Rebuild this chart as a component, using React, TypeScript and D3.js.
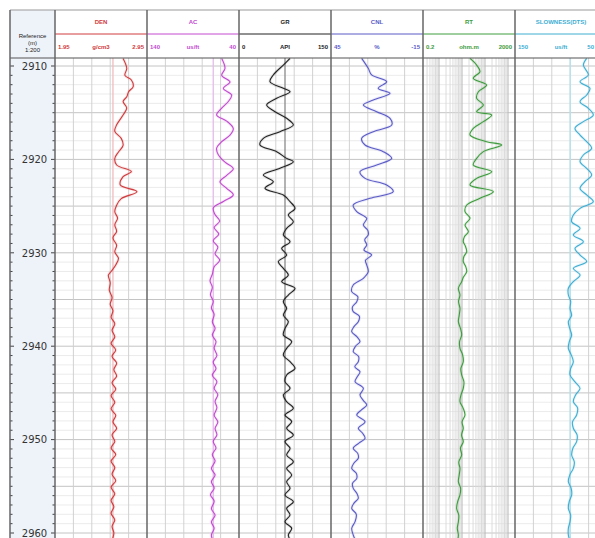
import * as d3 from 'd3';

// track header texts
const TRACK_TITLES = ['DEN', 'AC', 'GR', 'CNL', 'RT', 'SLOWNESS(DTS)'];
const SCALE_LEFT = ['1.95', '140', '0', '45', '0.2', '150'];
const SCALE_UNIT = ['g/cm3', 'us/ft', 'API', '%', 'ohm.m', 'us/ft'];
const SCALE_RIGHT = ['2.95', '40', '150', '-15', '2000', '50'];
const DOMAINS: [number, number][] = [[1.95, 2.95], [140, 40], [0, 150], [45, -15], [0.2, 2000], [150, 50]];
const LOG_TRACK = 4;
const BASELINES = [2.58, 68, 75, null, null, 90];

// curves: [depth (m), value]
const DEN = [
  [2909.2, 2.69], [2910.25, 2.73], [2911.0, 2.71], [2911.5, 2.78], [2912.2, 2.8], [2912.75, 2.75],
  [2913.3, 2.73], [2913.8, 2.69], [2914.5, 2.73], [2915.25, 2.69], [2916.3, 2.62], [2917.0, 2.6],
  [2917.75, 2.67], [2918.5, 2.69], [2919.2, 2.64], [2919.9, 2.6], [2920.6, 2.62], [2921.3, 2.78],
  [2921.85, 2.69], [2922.75, 2.66], [2923.45, 2.84], [2924.2, 2.67], [2924.9, 2.62], [2925.6, 2.6],
  [2926.3, 2.63], [2927.0, 2.6], [2927.7, 2.62], [2928.4, 2.58], [2929.2, 2.62], [2929.9, 2.6],
  [2930.6, 2.64], [2931.3, 2.61], [2932.0, 2.56], [2932.4, 2.53], [2933.2, 2.55], [2934.0, 2.54],
  [2934.8, 2.57], [2935.5, 2.55], [2936.2, 2.58], [2936.9, 2.56], [2937.6, 2.6], [2938.3, 2.57],
  [2939.0, 2.6], [2939.7, 2.56], [2940.4, 2.61], [2941.1, 2.57], [2941.8, 2.62], [2942.5, 2.59],
  [2943.2, 2.62], [2943.9, 2.57], [2944.6, 2.61], [2945.3, 2.56], [2946.0, 2.6], [2946.7, 2.56],
  [2947.4, 2.61], [2948.1, 2.58], [2948.8, 2.62], [2949.5, 2.57], [2950.2, 2.6], [2950.9, 2.56],
  [2951.6, 2.61], [2952.3, 2.56], [2953.0, 2.6], [2953.7, 2.57], [2954.4, 2.61], [2955.1, 2.56],
  [2955.8, 2.6], [2956.5, 2.56], [2957.2, 2.59], [2957.9, 2.56], [2958.6, 2.6], [2959.3, 2.57],
  [2960.0, 2.59], [2960.8, 2.57],
];

const AC = [
  [2909.2, 58.8], [2910.25, 55.2], [2911.0, 58.8], [2911.7, 49.8], [2912.4, 57], [2913.1, 48],
  [2913.8, 51.6], [2914.5, 58.8], [2915.25, 64.3], [2915.9, 53.4], [2916.7, 46.2], [2917.4, 49.8],
  [2918.1, 58.8], [2918.8, 64.3], [2919.5, 62.5], [2920.3, 55.2], [2921.0, 46.2], [2921.7, 53.4],
  [2922.4, 60.7], [2923.1, 53.4], [2923.8, 46.2], [2924.5, 57], [2925.2, 67.9], [2925.9, 66.1],
  [2926.6, 61], [2927.3, 67], [2928.0, 62], [2928.7, 68], [2929.4, 63], [2930.1, 66],
  [2930.8, 61], [2931.5, 67], [2932.3, 69], [2933.0, 71.5], [2933.7, 69], [2934.5, 71],
  [2935.2, 68], [2935.9, 70], [2936.6, 67], [2937.4, 69], [2938.1, 66], [2938.8, 69],
  [2939.5, 65], [2940.2, 67], [2941.0, 64], [2941.7, 68], [2942.4, 65], [2943.1, 69],
  [2943.8, 64], [2944.5, 67], [2945.2, 63], [2945.9, 66], [2946.6, 64], [2947.4, 67],
  [2948.1, 63], [2948.8, 66], [2949.5, 64], [2950.2, 68], [2950.9, 65], [2951.6, 69],
  [2952.3, 66], [2953.1, 70], [2953.8, 66], [2954.5, 70], [2955.2, 67], [2955.9, 71],
  [2956.6, 67], [2957.4, 70], [2958.1, 66], [2958.8, 70], [2959.5, 67], [2960.2, 70], [2960.8, 68],
];

const GR = [
  [2909.18, 83.2], [2909.9, 72.3], [2910.96, 55.9], [2911.68, 50.5], [2912.39, 72.3], [2912.75, 83.2],
  [2913.46, 61.4], [2914.18, 45.1], [2914.89, 58.7], [2915.6, 77.7], [2916.32, 88.6], [2917.03, 66.8],
  [2917.74, 39.7], [2918.46, 34.2], [2919.17, 61.4], [2919.89, 77.7], [2920.24, 88.6], [2920.96, 66.8],
  [2921.67, 39.7], [2922.38, 55.9], [2923.1, 42.4], [2923.81, 72.3], [2924.53, 83.2], [2925.24, 91.3],
  [2925.95, 80.4], [2926.67, 88.6], [2927.38, 77.7], [2928.09, 72.3], [2928.81, 83.2], [2929.52, 69.6],
  [2930.24, 77.7], [2930.95, 64.1], [2931.66, 72.3], [2932.38, 80.4], [2933.09, 69.6], [2933.8, 91.3],
  [2934.52, 80.4], [2935.23, 72.3], [2935.95, 77.7], [2936.66, 72.3], [2937.37, 80.4], [2938.09, 75],
  [2938.8, 72.3], [2939.51, 85.9], [2940.23, 77.7], [2940.94, 72.3], [2941.66, 83.2], [2942.37, 91.3],
  [2943.08, 77.7], [2943.8, 75], [2944.51, 83.2], [2945.22, 72.3], [2945.94, 77.7], [2946.65, 88.6],
  [2947.37, 75], [2948.08, 85.9], [2948.79, 77.7], [2949.51, 88.6], [2950.22, 75], [2950.93, 83.2],
  [2951.65, 77.7], [2952.36, 88.6], [2953.08, 77.7], [2953.79, 85.9], [2954.5, 77.7], [2955.22, 83.2],
  [2955.93, 75], [2956.65, 88.6], [2957.36, 77.7], [2958.07, 83.2], [2958.79, 75], [2959.5, 85.9],
  [2960.21, 80.4], [2960.8, 84],
];

const CNL = [
  [2909.18, 25.0], [2910.25, 20.7], [2910.96, 18.5], [2911.68, 8.7], [2912.39, 14.2], [2912.93, 6.5],
  [2913.64, 17.4], [2914.18, 23.9], [2914.89, 15.2], [2915.6, 6.5], [2916.32, 5.4], [2917.03, 17.4],
  [2917.74, 25.0], [2918.46, 22.8], [2919.17, 10.9], [2919.89, 5.4], [2920.6, 15.2], [2921.31, 26.1],
  [2922.03, 22.8], [2922.74, 8.7], [2923.45, 4.4], [2924.17, 19.6], [2924.88, 30.5], [2925.6, 28.2],
  [2926.31, 21.7], [2927.02, 23.9], [2927.6, 21.0], [2928.09, 20.7], [2928.6, 23.0], [2929.16, 21.7],
  [2929.7, 23.5], [2930.24, 18.5], [2930.8, 22.5], [2931.31, 21.7], [2932.02, 20.7], [2932.73, 23.9],
  [2933.45, 30.5], [2934.16, 31.5], [2934.7, 27.5], [2935.23, 28.2], [2935.8, 31.0], [2936.3, 30.5],
  [2936.8, 26.5], [2937.37, 27.2], [2937.9, 30.0], [2938.44, 31.5], [2939.0, 28.0], [2939.51, 26.1],
  [2940.0, 29.0], [2940.59, 30.5], [2941.1, 27.0], [2941.66, 27.2], [2942.2, 29.5], [2942.73, 26.1],
  [2943.3, 28.0], [2943.8, 29.3], [2944.51, 23.9], [2945.22, 26.1], [2945.8, 24.0], [2946.29, 21.7],
  [2946.8, 25.0], [2947.37, 28.2], [2948.08, 22.8], [2948.79, 27.2], [2949.3, 24.5], [2949.86, 22.8],
  [2950.4, 27.0], [2950.93, 30.5], [2951.5, 27.5], [2952.0, 27.2], [2952.5, 30.0], [2953.08, 31.5],
  [2953.6, 28.5], [2954.15, 28.2], [2954.7, 31.0], [2955.22, 30.5], [2955.8, 28.0], [2956.29, 27.2],
  [2956.8, 30.0], [2957.36, 31.5], [2958.0, 28.5], [2958.79, 29.3], [2959.5, 31.5], [2960.21, 30.5],
  [2960.8, 29],
];

const RT = [
  [2909.18, 22.1], [2909.9, 43], [2910.6, 60], [2911.32, 30.8], [2912.03, 117], [2912.75, 51],
  [2913.46, 43], [2914.18, 84], [2914.89, 43], [2915.25, 194], [2915.96, 84], [2916.67, 30.8],
  [2917.39, 22.1], [2918.1, 117], [2918.46, 526], [2919.17, 84], [2919.89, 43], [2920.6, 30.8],
  [2921.31, 194], [2922.03, 43], [2922.74, 22.1], [2923.45, 228], [2924.17, 60], [2924.88, 15.9],
  [2925.6, 13.4], [2926.31, 22.1], [2927.02, 13.4], [2927.74, 18.7], [2928.3, 12.5], [2928.81, 11.3],
  [2929.3, 14.0], [2929.88, 15.9], [2930.4, 12.0], [2930.95, 11.3], [2931.5, 14.5], [2932.02, 15.9],
  [2932.6, 11.5], [2933.09, 9.6], [2933.8, 6.9], [2934.52, 8.1], [2935.2, 7.0], [2935.95, 8.1],
  [2936.7, 7.5], [2937.37, 6.9], [2938.1, 8.5], [2938.8, 9.6], [2939.5, 7.8], [2940.23, 8.1],
  [2940.9, 10.5], [2941.66, 11.3], [2942.4, 8.8], [2943.08, 9.6], [2943.8, 12.0], [2944.51, 11.3],
  [2945.2, 9.0], [2945.94, 8.1], [2946.6, 11.0], [2947.37, 13.4], [2948.1, 10.0], [2948.79, 11.3],
  [2949.5, 9.5], [2950.22, 11.3], [2950.9, 8.5], [2951.65, 9.6], [2952.4, 7.2], [2953.08, 8.1],
  [2953.8, 7.5], [2954.5, 6.9], [2955.2, 8.6], [2955.93, 8.1], [2956.6, 6.5], [2957.36, 5.8],
  [2958.1, 7.2], [2958.79, 6.9], [2959.5, 6.2], [2960.21, 6.9], [2960.8, 6.4],
];

const DTS = [
  [2909.18, 72.1], [2909.9, 75.7], [2910.96, 70.3], [2911.68, 79.3], [2912.39, 68.5], [2913.1, 72.1],
  [2913.82, 79.3], [2914.53, 70.3], [2915.25, 64.9], [2915.96, 75.7], [2916.67, 84.8], [2917.39, 79.3],
  [2918.1, 72.1], [2918.82, 66.7], [2919.53, 75.7], [2920.24, 79.3], [2920.96, 72.1], [2921.67, 66.7],
  [2922.38, 73.9], [2923.1, 79.3], [2923.81, 72.1], [2924.53, 64.9], [2925.24, 79.3], [2925.95, 86.6],
  [2926.67, 88.4], [2927.38, 79.3], [2928.09, 86.6], [2928.81, 75.7], [2929.52, 84.8], [2930.24, 79.3],
  [2930.95, 72.1], [2931.66, 86.6], [2932.38, 79.3], [2933.09, 86.6], [2933.8, 92], [2934.52, 92],
  [2935.2, 89.5], [2935.95, 90.2], [2936.7, 88.5], [2937.37, 92], [2938.1, 90.5], [2938.8, 88.4],
  [2939.5, 91.0], [2940.23, 92], [2940.9, 89.0], [2941.66, 86.6], [2942.4, 89.5], [2943.08, 90.2],
  [2943.8, 85.0], [2944.51, 79.3], [2945.2, 84.0], [2945.94, 86.6], [2946.6, 82.0], [2947.37, 83],
  [2948.1, 87.5], [2948.79, 86.6], [2949.5, 82.5], [2950.22, 83], [2950.9, 87.0], [2951.65, 88.4],
  [2952.4, 85.5], [2953.08, 86.6], [2953.8, 90.5], [2954.5, 92], [2955.2, 89.0], [2955.93, 88.4],
  [2956.6, 91.0], [2957.36, 92], [2958.1, 89.5], [2958.79, 90.2], [2959.5, 92.0], [2960.21, 92],
  [2960.8, 90.5],
];

const CURVES = [DEN, AC, GR, CNL, RT, DTS];
const COLORS = ['#d03a3d', '#c24ad0', '#222222', '#5a5ac8', '#3e9c3e', '#3eaed2'];
const BASE_COLORS = ['#f1bcbe', '#e5bbec', '#8a8a8a', '', '', '#b2e2ef'];

const DEPTH_LABELS = [2910, 2920, 2930, 2940, 2950, 2960];

const W = 595;
const H = 538;
const LEFT = 10;
const TOP = 10;
const DEPTH_W = 45;
const TRACK_W = 92;
const HEAD_BOTTOM = 58;
const SANS = 'Liberation Sans, Arial, sans-serif';

export default function App() {
  const y = d3.scaleLinear().domain([2910, 2960]).range([66, 533]);
  const d0 = y.invert(HEAD_BOTTOM);
  const d1 = y.invert(H);
  const trackLeft = (i: number) => LEFT + DEPTH_W + i * TRACK_W;

  const xScales = DOMAINS.map((dom, i) =>
    i === LOG_TRACK
      ? d3.scaleLog().domain(dom).range([trackLeft(i), trackLeft(i) + TRACK_W])
      : d3.scaleLinear().domain(dom).range([trackLeft(i), trackLeft(i) + TRACK_W])
  );

  const metres = d3.range(Math.ceil(d0), Math.floor(d1) + 1);

  // log grid values for the resistivity track
  const logMinor: number[] = [];
  [0.1, 1, 10, 100, 1000].forEach(dec => {
    for (let m = 1; m <= 9; m++) {
      const v = m * dec;
      if (v > 0.2 && v < 2000) logMinor.push(v);
    }
  });

  return (
    <svg width={W} height={H} style={{ position: 'absolute', left: 0, top: 0, background: '#fff' }}>
      <defs>
        {CURVES.map((_, i) => (
          <clipPath id={`clip${i}`} key={i}>
            <rect x={trackLeft(i)} y={HEAD_BOTTOM} width={TRACK_W} height={H - HEAD_BOTTOM} />
          </clipPath>
        ))}
      </defs>

      {/* depth track */}
      <rect x={LEFT} y={TOP} width={DEPTH_W} height={H - TOP} fill="#eef3fa" />
      <g fontFamily={SANS} fontSize={6} fill="#222" textAnchor="middle">
        <text x={LEFT + DEPTH_W / 2} y={38}>Reference</text>
        <text x={LEFT + DEPTH_W / 2} y={45}>(m)</text>
        <text x={LEFT + DEPTH_W / 2} y={52}>1:200</text>
      </g>

      {/* track grids */}
      {CURVES.map((_, i) => {
        const x0 = trackLeft(i);
        const xs = xScales[i];
        return (
          <g key={`grid${i}`} clipPath={`url(#clip${i})`}>
            {metres.map(m => (
              <line key={m} x1={x0} x2={x0 + TRACK_W} y1={y(m)} y2={y(m)}
                stroke={m % 5 === 0 ? '#c4c4c4' : '#e6e6e6'} strokeWidth={m % 5 === 0 ? 1 : 0.8} />
            ))}
            {i === LOG_TRACK
              ? logMinor.map(v => (
                  <line key={v} x1={xs(v)} x2={xs(v)} y1={HEAD_BOTTOM} y2={H}
                    stroke={[1, 10, 100, 1000].includes(v) ? '#b5b5b5' : '#d8d8d8'} strokeWidth={0.9} />
                ))
              : d3.range(1, 5).map(k => (
                  <line key={k} x1={x0 + (k * TRACK_W) / 5} x2={x0 + (k * TRACK_W) / 5} y1={HEAD_BOTTOM} y2={H}
                    stroke="#cdcdcd" strokeWidth={0.9} />
                ))}
            {BASELINES[i] != null && (
              <line x1={xs(BASELINES[i] as number)} x2={xs(BASELINES[i] as number)} y1={HEAD_BOTTOM} y2={H}
                stroke={BASE_COLORS[i]} strokeWidth={1.3} />
            )}
          </g>
        );
      })}

      {/* curves */}
      {CURVES.map((data, i) => {
        const xs = xScales[i];
        const line = d3.line<number[]>()
          .x(d => xs(d[1]))
          .y(d => y(d[0]))
          .curve(d3.curveCatmullRom.alpha(0.5));
        const path = line(data) || '';
        return (
          <g key={`curve${i}`} clipPath={`url(#clip${i})`}>
            <path d={path} fill="none" stroke={COLORS[i]} strokeOpacity={0.12} strokeWidth={3} />
            <path d={path} fill="none" stroke={COLORS[i]} strokeWidth={1.1} />
          </g>
        );
      })}

      {/* depth ticks and labels */}
      {metres.map(m => (
        <g key={`t${m}`}>
          <line x1={LEFT} x2={LEFT + (m % 10 === 0 ? 4 : 2.5)} y1={y(m)} y2={y(m)} stroke="#444" strokeWidth={1} />
          <line x1={LEFT + DEPTH_W - (m % 10 === 0 ? 4 : 2.5)} x2={LEFT + DEPTH_W} y1={y(m)} y2={y(m)} stroke="#444" strokeWidth={1} />
        </g>
      ))}
      {DEPTH_LABELS.map(d => (
        <text key={d} x={LEFT + DEPTH_W / 2 + 2} y={y(d) + 3.8} textAnchor="middle"
          fontFamily="DejaVu Sans, sans-serif" fontSize={10} fill="#333">{d}</text>
      ))}

      {/* header */}
      {CURVES.map((_, i) => {
        const x0 = trackLeft(i);
        const right = Math.min(x0 + TRACK_W - 3, W - 1);
        return (
          <g key={`head${i}`} fontFamily={SANS} fontSize={6} fontWeight="bold" fill={COLORS[i]}>
            <text x={x0 + TRACK_W / 2} y={24} textAnchor="middle">{TRACK_TITLES[i]}</text>
            <line x1={x0} x2={x0 + TRACK_W} y1={34} y2={34} stroke={COLORS[i]} strokeWidth={1} />
            <text x={x0 + 3} y={49} textAnchor="start">{SCALE_LEFT[i]}</text>
            <text x={x0 + TRACK_W / 2} y={49} textAnchor="middle">{SCALE_UNIT[i]}</text>
            <text x={right} y={49} textAnchor="end">{SCALE_RIGHT[i]}</text>
          </g>
        );
      })}

      {/* frame */}
      <line x1={LEFT} x2={W} y1={TOP} y2={TOP} stroke="#999" strokeWidth={1.2} />
      <line x1={LEFT} x2={W} y1={HEAD_BOTTOM} y2={HEAD_BOTTOM} stroke="#555" strokeWidth={1.2} />
      <line x1={LEFT} x2={LEFT} y1={TOP} y2={H} stroke="#666" strokeWidth={1.5} />
      {d3.range(0, CURVES.length + 1).map(i => (
        <line key={`b${i}`} x1={trackLeft(i)} x2={trackLeft(i)} y1={TOP} y2={H} stroke="#666" strokeWidth={1.5} />
      ))}
    </svg>
  );
}
